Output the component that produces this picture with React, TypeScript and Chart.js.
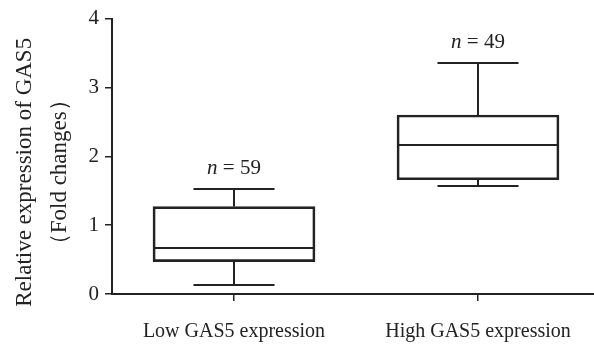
import { useEffect, useRef } from "react";
import { Chart, registerables } from "chart.js";

Chart.register(...registerables);

const categories = ["Low GAS5 expression", "High GAS5 expression"];
const whiskerMin = [0.13, 1.57];
const q1 = [0.47, 1.66];
const median = [0.67, 2.17];
const q3 = [1.27, 2.6];
const whiskerMax = [1.53, 3.36];
const sampleSizes = [59, 49];
const yMin = 0;
const yMax = 4;
const yStep = 1;
const yTitle = ["Relative expression of GAS5", "（Fold changes）"];

const INK = "#222222";
const FONT = "'Liberation Serif', 'Times New Roman', serif";

const boxPlugin = {
  id: "boxExtras",
  afterDatasetsDraw(chart: any) {
    const { ctx } = chart;
    const x = chart.scales.x;
    const y = chart.scales.y;
    const meta = chart.getDatasetMeta(0);
    ctx.save();
    ctx.strokeStyle = INK;
    ctx.lineWidth = 2;
    categories.forEach((_c, i) => {
      const bar = meta.data[i] as any;
      const cx = Math.round(x.getPixelForValue(i));
      const half = bar.width / 2;
      const capHalf = half / 2;
      const pMin = Math.round(y.getPixelForValue(whiskerMin[i]));
      const pQ1 = y.getPixelForValue(q1[i]);
      const pMed = Math.round(y.getPixelForValue(median[i]));
      const pQ3 = y.getPixelForValue(q3[i]);
      const pMax = Math.round(y.getPixelForValue(whiskerMax[i]));
      ctx.beginPath();
      ctx.moveTo(cx - half, pMed);
      ctx.lineTo(cx + half, pMed);
      ctx.moveTo(cx, pQ3);
      ctx.lineTo(cx, pMax);
      ctx.moveTo(cx - capHalf, pMax);
      ctx.lineTo(cx + capHalf, pMax);
      ctx.moveTo(cx, pQ1);
      ctx.lineTo(cx, pMin);
      ctx.moveTo(cx - capHalf, pMin);
      ctx.lineTo(cx + capHalf, pMin);
      ctx.stroke();

      // n label
      const nPart = "n";
      const rest = " = " + sampleSizes[i];
      ctx.fillStyle = INK;
      ctx.textBaseline = "alphabetic";
      ctx.textAlign = "left";
      ctx.font = `italic 21px ${FONT}`;
      const wN = ctx.measureText(nPart).width;
      ctx.font = `21px ${FONT}`;
      const wR = ctx.measureText(rest).width;
      const startX = cx - (wN + wR) / 2;
      const baseY = pMax - 15;
      ctx.font = `italic 21px ${FONT}`;
      ctx.fillText(nPart, startX, baseY);
      ctx.font = `21px ${FONT}`;
      ctx.fillText(rest, startX + wN, baseY);
    });
    ctx.restore();
  },
  afterDraw(chart: any) {
    const { ctx, chartArea } = chart;
    const cy = (chartArea.top + chartArea.bottom) / 2 + 16;
    const xs = [25, 60];
    ctx.save();
    ctx.fillStyle = INK;
    ctx.font = `23px ${FONT}`;
    ctx.textAlign = "center";
    ctx.textBaseline = "middle";
    yTitle.forEach((line, i) => {
      ctx.save();
      ctx.translate(xs[i], cy);
      ctx.rotate(-Math.PI / 2);
      ctx.fillText(line, 0, 0);
      ctx.restore();
    });
    ctx.restore();
  },
};

export default function App() {
  const ref = useRef<HTMLCanvasElement>(null);

  useEffect(() => {
    if (!ref.current) return;
    const chart = new Chart(ref.current, {
      type: "bar",
      data: {
        labels: categories,
        datasets: [
          {
            data: categories.map((_c, i) => [q1[i], q3[i]]) as any,
            backgroundColor: "rgba(255,255,255,0)",
            borderColor: INK,
            borderWidth: 2,
            borderSkipped: false,
            barThickness: 162,
          },
        ],
      },
      options: {
        responsive: false,
        animation: false,
        layout: { padding: { top: 15, right: 0, left: 0, bottom: 0 } },
        plugins: {
          legend: { display: false },
          tooltip: { enabled: false },
        },
        scales: {
          x: {
            offset: true,
            grid: {
              offset: false,
              drawOnChartArea: false,
              drawTicks: true,
              tickLength: 7,
              color: INK,
              lineWidth: 1.5,
            },
            border: { display: true, color: INK, width: 2 },
            ticks: {
              color: INK,
              font: { family: FONT, size: 20 },
              padding: 19,
              maxRotation: 0,
              autoSkip: false,
            },
            afterFit: (s: any) => {
              s.height = 52;
            },
          },
          y: {
            min: yMin,
            max: yMax,
            grid: {
              drawOnChartArea: false,
              drawTicks: true,
              tickLength: 7,
              color: INK,
              lineWidth: 1.5,
            },
            border: { display: true, color: INK, width: 2 },
            ticks: {
              stepSize: yStep,
              color: INK,
              font: { family: FONT, size: 21 },
              padding: 6,
            },
            afterFit: (s: any) => {
              s.width = 112;
            },
          },
        },
      },
      plugins: [boxPlugin],
    });
    return () => chart.destroy();
  }, []);

  return (
    <div
      style={{
        position: "fixed",
        left: 0,
        top: 0,
        width: 594,
        height: 346,
        overflow: "hidden",
        background: "#ffffff",
      }}
    >
      <canvas ref={ref} width={600} height={346} style={{ display: "block" }} />
    </div>
  );
}
